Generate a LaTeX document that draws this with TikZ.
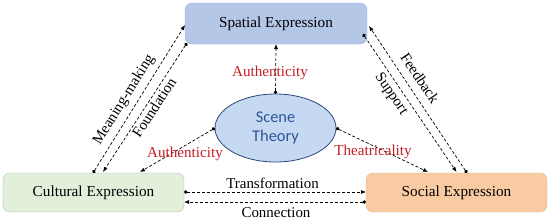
\documentclass[tikz,border=0pt]{standalone}
\usepackage{fontspec}
\setmainfont{Liberation Serif}
\newfontfamily\scenefont{Carlito}
\usetikzlibrary{arrows.meta,shapes.geometric}
\definecolor{spfill}{RGB}{180,199,231}
\definecolor{spdraw}{RGB}{158,179,216}
\definecolor{cufill}{RGB}{226,239,218}
\definecolor{cudraw}{RGB}{178,192,172}
\definecolor{sofill}{RGB}{248,203,163}
\definecolor{sodraw}{RGB}{212,182,152}
\definecolor{scfill}{RGB}{198,217,243}
\definecolor{scdraw}{RGB}{47,72,120}
\definecolor{sctext}{RGB}{47,85,151}
\definecolor{redtext}{RGB}{196,30,36}
\begin{document}
\begin{tikzpicture}[x=1bp,y=-1bp,
  box/.style={draw, rounded corners=7bp, inner sep=0pt, outer sep=0pt,
    font=\fontsize{15.3}{17}\selectfont},
  conn/.style={draw=black, line width=0.7bp, dash pattern=on 3bp off 2bp,
    {Circle[length=3.5bp]}-{Latex[length=5bp,width=4bp]}},
  elbl/.style={font=\fontsize{15}{17}\selectfont, inner sep=0pt},
  rlbl/.style={font=\fontsize{15.2}{17}\selectfont, text=redtext, inner sep=0pt}]
\useasboundingbox (0,0) rectangle (550,222);
\node[box, fill=spfill, draw=spdraw, minimum width=182bp, minimum height=41bp] (spatial) at (276,23.5) {Spatial Expression};
\node[box, fill=cufill, draw=cudraw, minimum width=181bp, minimum height=39bp] (cultural) at (93.5,192.5) {Cultural Expression};
\node[box, fill=sofill, draw=sodraw, minimum width=181bp, minimum height=39bp] (social) at (456.5,192.5) {Social Expression};
\node[ellipse, draw=scdraw, fill=scfill, line width=0.8bp, minimum width=121bp, minimum height=68bp, inner sep=0pt, outer sep=0pt,
  align=center, text=sctext, font=\scenefont\fontsize{16.5}{19.5}\selectfont] (scene) at (275.5,128) {Scene\\Theory};

% scene theory links
\draw[conn] (scene.north) -- (spatial.south);
\draw[conn] (scene.west) -- ([xshift=46.5bp,yshift=1bp]cultural.north);
\draw[conn] (scene.east) -- ([xshift=-28.5bp,yshift=1bp]social.north);
\node[rlbl] (a1) at (270,73) {Authenticity};
\node[rlbl] (a2) at (185,154) {Authenticity};
\node[rlbl] (th) at (373,152) {Theatricality};

% left pair
\draw[conn] ([xshift=-0.5bp]cultural.north) -- ([yshift=-1.5bp]spatial.west);
\draw[conn] ([xshift=2bp,yshift=1bp]spatial.south west) -- ([xshift=9.5bp,yshift=1bp]cultural.north);
\node[elbl, rotate=58] (mm) at (124,100) {Meaning-making};
\node[elbl, rotate=57] (fd) at (154,107.5) {Foundation};

% right pair
\draw[conn] ([xshift=10.5bp]social.north) -- ([xshift=2bp,yshift=-2.5bp]spatial.east);
\draw[conn] ([xshift=-4bp,yshift=-10.5bp]spatial.east) -- ([yshift=1bp]social.north);
\node[elbl, rotate=-56] (fb) at (420,78) {Feedback};
\node[elbl, rotate=-56] (sp) at (391,94) {Support};

% bottom pair
\draw[conn] ([yshift=0.5bp]cultural.east) -- ([yshift=0.5bp]social.west);
\draw[conn] ([yshift=-9.5bp]social.west) -- ([yshift=-9.5bp]cultural.east);
\node[elbl] (tr) at (272.5,183) {Transformation};
\node[elbl] (cn) at (276,213) {Connection};
\end{tikzpicture}
\end{document}
